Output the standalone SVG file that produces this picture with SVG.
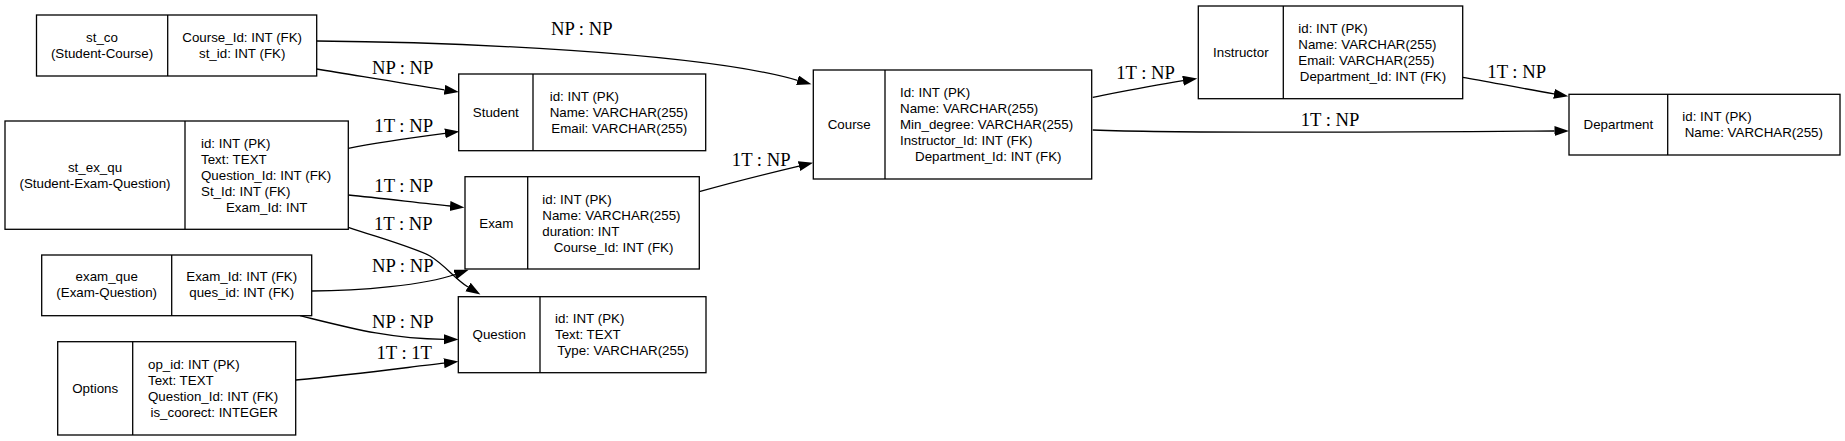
<svg xmlns="http://www.w3.org/2000/svg" width="1845" height="441" viewBox="0 0 1845 441">
<style>
.box{fill:#fff;stroke:#000;stroke-width:1.3}
.div{stroke:#000;stroke-width:1.3}
.t{font-family:"Liberation Sans",Arial,sans-serif;font-size:13.33px;fill:#000}
.m{text-anchor:middle}
.e{fill:none;stroke:#000;stroke-width:1.3}
.lbl{font-family:"Liberation Serif","Times New Roman",serif;font-size:18.67px;fill:#000;text-anchor:middle}
</style>
<defs>
<marker id="arr" markerUnits="userSpaceOnUse" markerWidth="16" markerHeight="12" refX="0" refY="5" orient="auto">
<path d="M0,0 L14.5,5 L0,10 z" fill="#000"/>
</marker>
</defs>
<rect width="1845" height="441" fill="#fff"/>

<g id="connectors">
<path class="e" marker-end="url(#arr)" d="M316.7,41 C450,42 700,52 797.5,80.3"/>
<path class="e" marker-end="url(#arr)" d="M316.7,69 C360,76 400,83 444.5,89.8"/>
<path class="e" marker-end="url(#arr)" d="M348.3,148.3 C380,142 410,138 445,133.4"/>
<path class="e" marker-end="url(#arr)" d="M348.3,195 C380,198 420,203 450,206"/>
<path class="e" marker-end="url(#arr)" d="M348.3,227.3 C380,238 415,248 430,256 C445,265 455,279 468,287"/>
<path class="e" marker-end="url(#arr)" d="M311.7,291 C360,291 425,285 455,274.5"/>
<path class="e" marker-end="url(#arr)" d="M300,315.7 C350,328 390,339 444,339.3"/>
<path class="e" marker-end="url(#arr)" d="M295.7,380 C360,374 410,367 444,363.2"/>
<path class="e" marker-end="url(#arr)" d="M699.3,191.7 C730,183 770,173 799,166.1"/>
<path class="e" marker-end="url(#arr)" d="M1092.7,97.3 C1120,92 1150,86 1183,80.7"/>
<path class="e" marker-end="url(#arr)" d="M1092.7,130 C1200,134 1400,132 1554.5,131"/>
<path class="e" marker-end="url(#arr)" d="M1462.7,77.3 C1490,82 1520,88 1554,93.8"/>
<text class="lbl" x="581.8" y="35">NP : NP</text>
<text class="lbl" x="402.7" y="74">NP : NP</text>
<text class="lbl" x="403.7" y="131.7">1T : NP</text>
<text class="lbl" x="403.7" y="192.3">1T : NP</text>
<text class="lbl" x="403.3" y="230">1T : NP</text>
<text class="lbl" x="402.8" y="271.7">NP : NP</text>
<text class="lbl" x="402.8" y="328.3">NP : NP</text>
<text class="lbl" x="404.2" y="359.3">1T : 1T</text>
<text class="lbl" x="761.2" y="165.7">1T : NP</text>
<text class="lbl" x="1145.5" y="79.3">1T : NP</text>
<text class="lbl" x="1330" y="125.7">1T : NP</text>
<text class="lbl" x="1516.7" y="77.7">1T : NP</text>
</g>

<g id="st_co">
<rect class="box" x="36.5" y="15" width="280.2" height="61"/>
<line class="div" x1="167.7" y1="15" x2="167.7" y2="76"/>
<text class="t m" x="102" y="42">st_co</text>
<text class="t m" x="102" y="58">(Student-Course)</text>
<text class="t m" x="242.2" y="42">Course_Id: INT (FK)</text>
<text class="t m" x="242.2" y="58">st_id: INT (FK)</text>
</g>

<g id="st_ex_qu">
<rect class="box" x="5" y="121" width="343.3" height="108.3"/>
<line class="div" x1="185" y1="121" x2="185" y2="229.3"/>
<text class="t m" x="95" y="171.7">st_ex_qu</text>
<text class="t m" x="95" y="187.7">(Student-Exam-Question)</text>
<text class="t" x="201" y="147.7">id: INT (PK)</text>
<text class="t" x="201" y="163.7">Text: TEXT</text>
<text class="t" x="201" y="179.7">Question_Id: INT (FK)</text>
<text class="t" x="201" y="195.7">St_Id: INT (FK)</text>
<text class="t m" x="266.7" y="211.7">Exam_Id: INT</text>
</g>

<g id="exam_que">
<rect class="box" x="41.7" y="255" width="270" height="60.7"/>
<line class="div" x1="171.7" y1="255" x2="171.7" y2="315.7"/>
<text class="t m" x="106.7" y="281.3">exam_que</text>
<text class="t m" x="106.7" y="297.3">(Exam-Question)</text>
<text class="t m" x="241.7" y="281.3">Exam_Id: INT (FK)</text>
<text class="t m" x="241.7" y="297.3">ques_id: INT (FK)</text>
</g>

<g id="Options">
<rect class="box" x="57.7" y="341.7" width="238" height="93.3"/>
<line class="div" x1="132.7" y1="341.7" x2="132.7" y2="435"/>
<text class="t m" x="95.2" y="393">Options</text>
<text class="t" x="148" y="369">op_id: INT (PK)</text>
<text class="t" x="148" y="385">Text: TEXT</text>
<text class="t" x="148" y="401">Question_Id: INT (FK)</text>
<text class="t m" x="214.2" y="417">is_coorect: INTEGER</text>
</g>

<g id="Student">
<rect class="box" x="458.7" y="74" width="247" height="76.7"/>
<line class="div" x1="533" y1="74" x2="533" y2="150.7"/>
<text class="t m" x="495.8" y="117">Student</text>
<text class="t" x="549.7" y="101">id: INT (PK)</text>
<text class="t" x="549.7" y="117">Name: VARCHAR(255)</text>
<text class="t m" x="619.3" y="133">Email: VARCHAR(255)</text>
</g>

<g id="Exam">
<rect class="box" x="465" y="176.7" width="234.3" height="92.3"/>
<line class="div" x1="527.7" y1="176.7" x2="527.7" y2="269"/>
<text class="t m" x="496.3" y="227.5">Exam</text>
<text class="t" x="542.3" y="203.5">id: INT (PK)</text>
<text class="t" x="542.3" y="219.5">Name: VARCHAR(255)</text>
<text class="t" x="542.3" y="235.5">duration: INT</text>
<text class="t m" x="613.5" y="251.5">Course_Id: INT (FK)</text>
</g>

<g id="Question">
<rect class="box" x="458.3" y="296.7" width="247.7" height="76"/>
<line class="div" x1="540" y1="296.7" x2="540" y2="372.7"/>
<text class="t m" x="499.2" y="339.4">Question</text>
<text class="t" x="555" y="323.4">id: INT (PK)</text>
<text class="t" x="555" y="339.4">Text: TEXT</text>
<text class="t m" x="623" y="355.4">Type: VARCHAR(255)</text>
</g>

<g id="Course">
<rect class="box" x="813.3" y="70" width="278.4" height="109"/>
<line class="div" x1="885" y1="70" x2="885" y2="179"/>
<text class="t m" x="849.2" y="129.2">Course</text>
<text class="t" x="900" y="97.2">Id: INT (PK)</text>
<text class="t" x="900" y="113.2">Name: VARCHAR(255)</text>
<text class="t" x="900" y="129.2">Min_degree: VARCHAR(255)</text>
<text class="t" x="900" y="145.2">Instructor_Id: INT (FK)</text>
<text class="t m" x="988.3" y="161.2">Department_Id: INT (FK)</text>
</g>

<g id="Instructor">
<rect class="box" x="1198.3" y="6" width="264.4" height="92.7"/>
<line class="div" x1="1283.3" y1="6" x2="1283.3" y2="98.7"/>
<text class="t m" x="1240.8" y="57">Instructor</text>
<text class="t" x="1298.3" y="33">id: INT (PK)</text>
<text class="t" x="1298.3" y="49">Name: VARCHAR(255)</text>
<text class="t" x="1298.3" y="65">Email: VARCHAR(255)</text>
<text class="t m" x="1373" y="81">Department_Id: INT (FK)</text>
</g>

<g id="Department">
<rect class="box" x="1569" y="94.3" width="271" height="60.7"/>
<line class="div" x1="1667.7" y1="94.3" x2="1667.7" y2="155"/>
<text class="t m" x="1618.4" y="129.3">Department</text>
<text class="t" x="1682.3" y="121.3">id: INT (PK)</text>
<text class="t m" x="1753.8" y="137.3">Name: VARCHAR(255)</text>
</g>
</svg>
